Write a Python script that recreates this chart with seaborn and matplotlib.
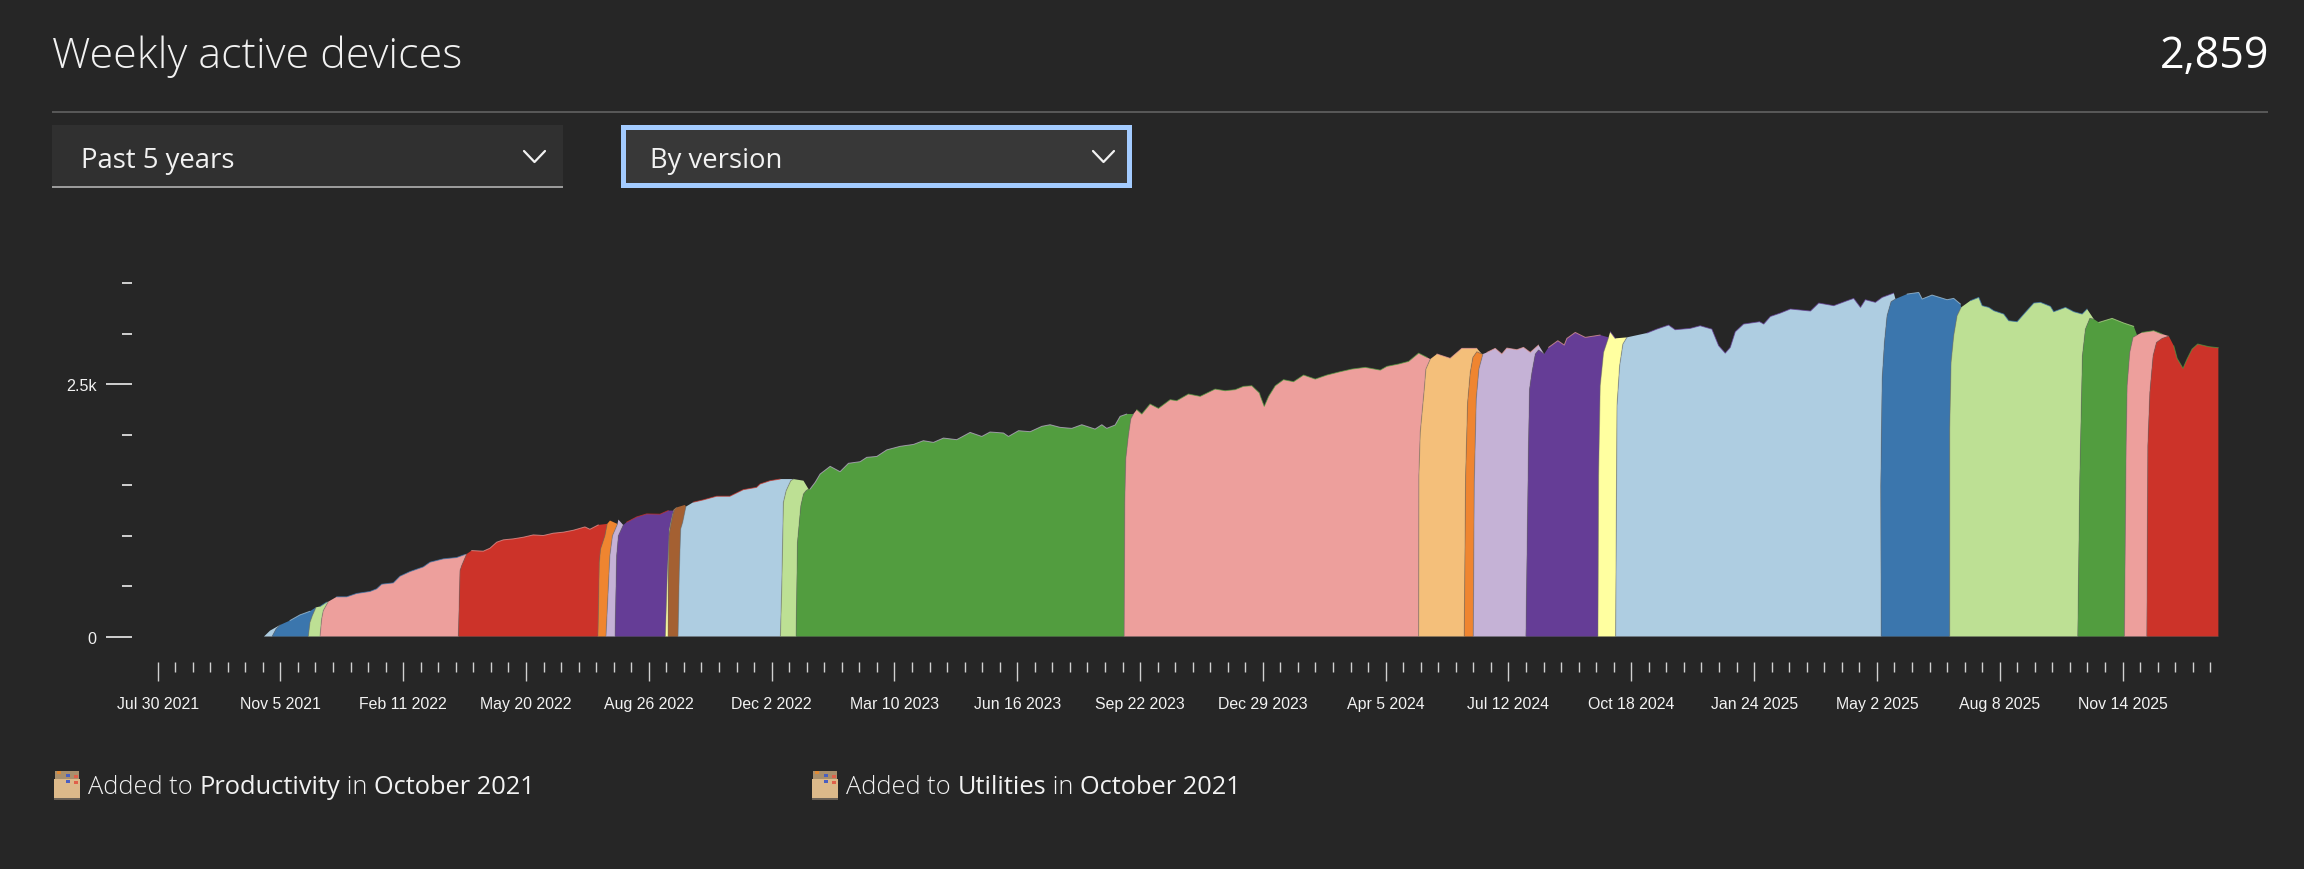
import numpy as np
import pandas as pd
import matplotlib
matplotlib.use('Agg')
import matplotlib.pyplot as plt
from matplotlib.patches import Rectangle
import seaborn as sns

# top of the stack (days since the first x tick, devices)
top_day = [84.9, 89.7, 97.7, 105.6, 113.6, 121.6, 129.6, 134.9, 142.9, 150.9, 158.8, 169.5, 174.8, 178.8, 188.1,
           193.4, 201.4, 212, 217.4, 228, 238.6, 245.3, 250.6, 259.9, 265.2, 270.6, 275.9, 283.9, 291.8, 299.8,
           307.8, 315.8, 323.8, 331.7, 341, 345, 351.7, 361, 367.7, 374.3, 382.3, 390.3, 400.9, 407.5, 414.2,
           420.8, 427.5, 435.5, 446.1, 456.7, 467.4, 478,
           480.8, 488.8, 496.8, 507.4, 515.4, 520.7, 524.7, 528.7, 536.7, 544.6, 551.3, 560.6, 565.9, 573.9, 581.9,
           592.5, 603.2, 611.1, 619.1, 627.1, 637.7, 648.4, 657.7, 664.3, 675, 679, 687, 696.3, 705.6, 712.2,
           720.2, 729.5, 737.5, 748.1, 753.5, 757.4, 764.1, 768.1, 773.4, 781.4, 785.4, 792, 798.7, 808, 813.3,
           822.6, 832, 843.9, 851.9, 859.9, 866.5, 873.2, 879.3,
           879.9, 883.1, 886.6, 891.9, 898.5, 906.5, 914.5, 923.8, 933.1, 943.7, 953, 963.7, 975.7, 981, 990.3,
           998.3, 1006.3, 1013, 1020.9, 1031.5, 1040.8, 1052.8, 1060.8, 1067.4, 1072.7, 1076.7, 1084.7, 1090,
           1095.4, 1102, 1106.5, 1110, 1117.4, 1122.5, 1124.6, 1131.3, 1139.3, 1151.2, 1159.2, 1163.2, 1172.5,
           1188.5, 1196.4, 1205.8, 1211, 1223, 1231, 1240.3, 1245.7, 1251, 1255, 1259, 1265.6, 1278.4,
           1281.7, 1287, 1295, 1303, 1319, 1325.6, 1337.6, 1348.2, 1353.5, 1358.9, 1362.8, 1370.8, 1376.2, 1385.5,
           1396.1, 1405.4, 1408.1, 1416, 1428, 1433.3, 1438.7, 1446.6, 1453.3, 1456, 1461.3, 1465.3, 1473.2,
           1477.2, 1483.9, 1490.5, 1497.2, 1502.5, 1510.5, 1513.1, 1522.5, 1529.1, 1535.8, 1539.7, 1545.1, 1549.1,
           1559.7, 1569, 1577, 1583.6, 1592.9, 1599.6, 1604.9, 1608.9, 1611.6, 1616.3, 1619.5, 1623.5, 1628,
           1636.8, 1644.5]
top_value = [0, 58, 114, 158, 214, 250, 297, 340, 393, 393, 426, 446, 472, 518, 531,
             597, 643, 689, 736, 769, 782, 812, 851, 845, 874, 934, 957, 967, 983, 1006,
             1000, 1023, 1033, 1052, 1085, 1062, 1105, 1148, 1158, 1132, 1184, 1214, 1211, 1247, 1280,
             1303, 1330, 1353, 1389, 1389, 1454, 1477,
             1510, 1543, 1559, 1576, 1543, 1460, 1526, 1609, 1685, 1632, 1715, 1731, 1774, 1783, 1848,
             1883, 1902, 1939, 1922, 1965, 1949, 2021, 1981, 2025, 2015, 1981, 2038, 2028, 2081, 2097,
             2071, 2061, 2097, 2054, 2097, 2061, 2094, 2180, 2203, 2246, 2203, 2302, 2259, 2345, 2335,
             2401, 2378, 2450, 2434, 2444, 2477, 2483, 2411,
             2384, 2279, 2378, 2483, 2543, 2523, 2589, 2549, 2589, 2622, 2648, 2665, 2638, 2675, 2698,
             2724, 2806, 2764, 2797, 2754, 2853, 2853, 2813, 2853, 2797, 2856, 2840, 2863,
             2813, 2886, 2797, 2863, 2929, 2886, 2952, 3011, 2962, 2985, 3018, 2952, 3005,
             3005, 3044, 3084, 3038, 3051, 3077, 3044, 2880, 2806, 2863, 3018, 3094, 3117,
             3094, 3169, 3203, 3243, 3223, 3302, 3276, 3325, 3348, 3259, 3335, 3309, 3358, 3401,
             3391, 3407, 3342, 3381, 3335, 3348, 3292, 3325, 3358, 3276, 3259, 3226, 3193,
             3127, 3117, 3210, 3302, 3309, 3269, 3216, 3259, 3216, 3193, 3243, 3210, 3110,
             3150, 3104, 3071, 3011, 3028, 2995, 2995, 2879, 2754, 2655, 2747, 2846, 2896,
             2870, 2859]

# where each version starts under the previous one, from the baseline up
edge_days = [
    [84.9],
    [91.3, 94.5, 97.7],
    [120.3, 121.6, 123.5, 126.4],
    [129.6, 130.9, 132.2, 136.2],
    [240, 241.3, 242.6, 246.6],
    [351.4, 352.5, 353.5, 357, 358.8],
    [357.8, 360.9, 363, 367],
    [365, 366.3, 367.7, 371.6],
    [405.2, 406.8, 408.4, 411, 412.4],
    [407.3, 407.6, 408.1, 409.4, 412, 414.2],
    [415.3, 416.3, 417.4, 419, 421.6],
    [497, 498.1, 499.4, 501.6, 505.3, 507.4],
    [509.5, 510.6, 513.3, 515.4, 517.5, 519.4],
    [771.3, 771.8, 772.6, 774.7, 776.6, 778.7],
    [1006.3, 1006.5, 1007.6, 1010.8, 1012.1, 1015.6],
    [1042.7, 1043.8, 1045.4, 1047.5, 1049.6, 1052.8, 1056.8],
    [1049.9, 1050.7, 1052.3, 1054.4, 1057.6],
    [1091.9, 1094, 1094.8, 1096.7, 1099.4, 1102, 1106.5],
    [1149.4, 1149.9, 1151.2, 1153.9, 1157.9],
    [1163.5, 1164.6, 1166.7, 1169.3, 1172.5],
    [1375.4, 1375.1, 1376.2, 1378, 1380.1, 1383.3, 1386.8],
    [1430.1, 1430.1, 1431.2, 1433.3, 1436, 1439.2],
    [1532.3, 1533.9, 1536, 1538.4, 1541.9, 1545.1],
    [1569.5, 1570.9, 1571.7, 1573.8, 1576.4, 1579.6],
    [1587.4, 1588.2, 1589.8, 1592.4, 1595.1, 1599.6, 1604.9],
]
edge_values = [
    [0],
    [0, 74, 114],
    [0, 140, 206, 289],
    [0, 173, 256, 345],
    [0, 652, 701, 817],
    [0, 734, 866, 998, 1115],
    [0, 800, 998, 1114],
    [0, 800, 998, 1104],
    [0, 637, 1064, 1213, 1246],
    [0, 569, 998, 1097, 1255, 1278],
    [0, 636, 1064, 1130, 1286],
    [0, 503, 1328, 1444, 1543, 1559],
    [0, 932, 1295, 1411, 1444, 1460],
    [0, 1328, 1757, 1988, 2154, 2203],
    [0, 1592, 2021, 2450, 2648, 2747],
    [0, 1592, 2318, 2615, 2764, 2820, 2797],
    [0, 1526, 2351, 2648, 2797],
    [0, 1922, 2450, 2615, 2797, 2838, 2797],
    [0, 1592, 2483, 2813, 2962],
    [0, 2285, 2681, 2896, 2962],
    [0, 1493, 2549, 2912, 3176, 3315, 3342],
    [0, 2054, 2714, 2978, 3176, 3259],
    [0, 1559, 2780, 3044, 3150, 3143],
    [0, 1889, 2483, 2813, 2962, 2985],
    [0, 1889, 2417, 2780, 2912, 2952, 2975],
]

# slots of the palette below, one for each version, left to right
band_colour = [0, 1, 2, 4, 5, 7, 8, 9, 10, 11, 0, 2, 3, 4, 6, 7, 8, 9, 10, 0, 1, 2, 3, 4, 5]
# older versions still showing along the top edge
fleck_colour = [0, 0, 1, 1, 4, 5, 5, 5, 9, 9, 5, 0, 8, 3, 4, 4, 4, 4, 9, 9, 0, 1, 2, 3, 3]

palette = sns.color_palette(['#aecde1', '#3b76ad', '#bde094', '#529d3f', '#ed9f9c', '#cc3329',
                             '#f4bf7a', '#ef8530', '#c5b2d6', '#653d96', '#ffffa0', '#a46032'])

tick_labels = ['Jul 30 2021', 'Nov 5 2021', 'Feb 11 2022', 'May 20 2022', 'Aug 26 2022', 'Dec 2 2022',
               'Mar 10 2023', 'Jun 16 2023', 'Sep 22 2023', 'Dec 29 2023', 'Apr 5 2024', 'Jul 12 2024',
               'Oct 18 2024', 'Jan 24 2025', 'May 2 2025', 'Aug 8 2025', 'Nov 14 2025']

BG = '#262626'
UI_FONT = ['Open Sans', 'DejaVu Sans']
START = pd.Timestamp('2021-07-30')


def to_date(days):
    return START + pd.to_timedelta(np.asarray(days, dtype=float), unit='D')


sns.set_theme(style='dark', rc={'axes.facecolor': BG, 'figure.facecolor': BG, 'savefig.facecolor': BG})
plt.rcParams['font.family'] = ['Liberation Sans', 'DejaVu Sans']

W, H = 2304, 870
fig = plt.figure(figsize=(W / 100, H / 100), dpi=100)

# page furniture in pixel coordinates
ui = fig.add_axes([0, 0, 1, 1])
ui.set_xlim(0, W)
ui.set_ylim(H, 0)
ui.axis('off')


def ui_text(x, y, s, size, weight='light', ha='left', color='#f2f2f2'):
    return ui.text(x, y, s, fontsize=size, fontweight=weight, ha=ha, va='center', color=color, family=UI_FONT)


def chevron(x0, x1, y0, y1):
    ui.plot([x0, (x0 + x1) / 2, x1], [y0, y1, y0], color='#f2f2f2', lw=1.6)


def added_line(x, y, parts):
    # little crate icon, then the sentence with its bold bits
    ui.add_patch(Rectangle((x, y - 5), 26, 19, color='#dcb98a', lw=0))
    ui.add_patch(Rectangle((x + 1, y - 13), 24, 8, color='#a98f6c', lw=0))
    for dx, dy, c in [(3, -13, '#e08a35'), (12, -10, '#4a5fc0'), (20, -9, '#e0604a'), (12, -4, '#4a5fc0'), (20, -3, '#e0604a')]:
        ui.add_patch(Rectangle((x + dx, y + dy), 4, 3, color=c, lw=0))
    ui.add_patch(Rectangle((x, y + 14), 26, 1.5, color='#6a6157', lw=0))
    cur = x + 34.5
    rend = fig.canvas.get_renderer()
    for s, weight in parts:
        t = ui_text(cur, y + 3, s, 18.3, weight)
        cur = t.get_window_extent(rend).x1


ui_text(52, 57, 'Weekly active devices', 31)
ui_text(2269, 57, '2,859', 31, 'medium', ha='right', color='white')
ui.add_patch(Rectangle((52, 112), W - 52 - 36, 2, color='#575757', lw=0))

ui.add_patch(Rectangle((52, 126), 511, 63, color='#303030', lw=0))
ui.add_patch(Rectangle((52, 187), 511, 2, color='#9a9a9a', lw=0))
ui_text(81, 161, 'Past 5 years', 19.8, 'normal')
chevron(524, 545, 152, 163)

ui.add_patch(Rectangle((620.5, 126), 511, 63, color='#a3cbff', lw=0))
ui.add_patch(Rectangle((625.5, 131), 501, 53, color='#383838', lw=0))
ui_text(650, 161, 'By version', 19.8, 'normal')
chevron(1093, 1114, 152, 163)

added_line(54, 785, [('Added to ', 'light'), ('Productivity', 'medium'), (' in ', 'light'), ('October 2021', 'medium')])
added_line(812, 785, [('Added to ', 'light'), ('Utilities', 'medium'), (' in ', 'light'), ('October 2021', 'medium')])

# chart: axes run from x=132..2220 and y=637.5..270 in pixels
ax = fig.add_axes([132 / W, (H - 637.5) / H, (2220 - 132) / W, (637.5 - 270) / H])
ax.patch.set_alpha(0)

top_day_arr = np.array(top_day)
top_value_arr = np.array(top_value)
n = len(edge_days)
for k in range(n):
    d_left, v_left = np.array(edge_days[k]), np.array(edge_values[k])
    if k + 1 < n:
        d_right, v_right = np.array(edge_days[k + 1]), np.array(edge_values[k + 1])
        keep = (top_day_arr > d_left[-1]) & (top_day_arr < d_right[-1])
        xs = np.concatenate([d_left, top_day_arr[keep], d_right[::-1]])
        ys = np.concatenate([v_left, top_value_arr[keep], v_right[::-1]])
    else:
        keep = top_day_arr > d_left[-1]
        xs = np.concatenate([d_left, top_day_arr[keep], top_day_arr[-1:], d_left[:1]])
        ys = np.concatenate([v_left, top_value_arr[keep], [0], [0]])
    ax.fill(to_date(xs), ys, color=palette[band_colour[k]], lw=0, zorder=2)

    # hairline along the version change, flecks of older versions along the top
    if k > 0:
        sns.lineplot(x=to_date(d_left), y=v_left, ax=ax, color='#6f6f6f', alpha=0.4, lw=0.8,
                     sort=False, estimator=None, errorbar=None, zorder=3)
    if keep.sum() > 1:
        sns.lineplot(x=to_date(top_day_arr[keep]), y=top_value_arr[keep], ax=ax, color=palette[fleck_colour[k]],
                     alpha=0.7, lw=0.7, sort=False, estimator=None, errorbar=None, zorder=4)

sns.lineplot(x=to_date([top_day[0], top_day[-1]]), y=[0, 0], ax=ax, color='#8c8c8c', alpha=0.8, lw=1.0,
             sort=False, estimator=None, errorbar=None, zorder=4)

ax.set_xlim(to_date([-20.43])[0], to_date([1645.8])[0])
ax.set_ylim(0, 3639)
ax.set_xlabel('')
ax.set_ylabel('')
ax.grid(False)

major_dates = pd.to_datetime(tick_labels, format='%b %d %Y')
minor_dates = pd.date_range('2021-07-30', '2026-01-23', freq='14D')
ax.set_xticks(major_dates)
ax.set_xticklabels(tick_labels)
ax.set_xticks(minor_dates, minor=True)
ax.set_yticks([0, 2500])
ax.set_yticklabels(['0', '2.5k'])
ax.set_yticks([500, 1000, 1500, 2000, 3000, 3500], minor=True)

for side in ['top', 'right', 'left', 'bottom']:
    ax.spines[side].set_visible(False)
ax.spines['bottom'].set_position(('outward', 25.5 * 0.72))

tick_col = '#d0d0d0'
ax.tick_params(axis='x', which='major', direction='out', bottom=True, length=19 * 0.72, width=1.0, color=tick_col,
               labelsize=11.4, labelcolor='#f2f2f2', pad=11)
ax.tick_params(axis='x', which='minor', direction='out', bottom=True, length=10 * 0.72, width=1.0, color=tick_col)
ax.tick_params(axis='y', which='major', direction='out', left=True, length=26 * 0.72, width=1.4, color=tick_col,
               labelsize=11.6, labelcolor='#f2f2f2', pad=7)
ax.tick_params(axis='y', which='minor', direction='out', left=True, length=10 * 0.72, width=1.4, color=tick_col)

fig.savefig('out.png', dpi=100)
